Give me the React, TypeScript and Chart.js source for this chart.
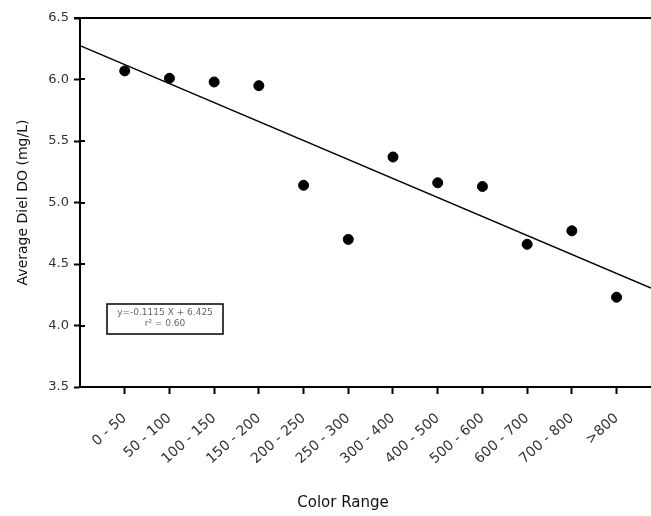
import React, { useEffect, useRef } from "react";
import { Chart, registerables } from "chart.js";

Chart.register(...registerables);

const categories = [
  "0 - 50", "50 - 100", "100 - 150", "150 - 200", "200 - 250", "250 - 300",
  "300 - 400", "400 - 500", "500 - 600", "600 - 700", "700 - 800", ">800",
];
const doValues = [6.07, 6.01, 5.98, 5.95, 5.14, 4.7, 5.37, 5.16, 5.13, 4.66, 4.77, 4.23];
const trendX = [0, 12.77];
const trendY = [6.275, 4.305];
const equationLines = ["y=-0.1115 X + 6.425", "r² = 0.60"];
const xTitle = "Color Range";
const yTitle = "Average Diel DO (mg/L)";

const FONT = "'DejaVu Sans', 'Liberation Sans', Arial, sans-serif";

export default function App() {
  const ref = useRef<HTMLCanvasElement | null>(null);

  useEffect(() => {
    document.body.style.margin = "0";
    const canvas = ref.current;
    if (!canvas) return;

    const decor = {
      id: "decor",
      afterDraw(chart: any) {
        const { ctx, chartArea } = chart;
        const yScale = chart.scales.y;
        ctx.save();
        // top frame line
        ctx.strokeStyle = "#000";
        ctx.lineWidth = 2;
        ctx.beginPath();
        ctx.moveTo(chartArea.left - 6, chartArea.top);
        ctx.lineTo(chart.width, chartArea.top);
        ctx.stroke();

        // inner half of y ticks (ticks cross the axis)
        ctx.beginPath();
        yScale.ticks.forEach((t: any) => {
          const py = Math.round(yScale.getPixelForValue(t.value));
          ctx.moveTo(chartArea.left, py);
          ctx.lineTo(chartArea.left + 5, py);
        });
        ctx.stroke();

        // equation box
        const bx = chartArea.left + 27;
        const by = chartArea.top + 286;
        const bw = 116;
        const bh = 30;
        ctx.fillStyle = "#fff";
        ctx.fillRect(bx, by, bw, bh);
        ctx.lineWidth = 1.5;
        ctx.strokeRect(bx, by, bw, bh);
        ctx.fillStyle = "#666";
        ctx.font = `9px ${FONT}`;
        ctx.textAlign = "center";
        ctx.textBaseline = "middle";
        ctx.fillText(equationLines[0], bx + bw / 2, by + 9);
        ctx.fillText(equationLines[1], bx + bw / 2, by + 20);

        // axis titles
        ctx.fillStyle = "#111";
        ctx.font = `15px ${FONT}`;
        ctx.fillText(xTitle, 343, 503);
        ctx.translate(23, (chartArea.top + chartArea.bottom) / 2);
        ctx.rotate(-Math.PI / 2);
        ctx.font = `14px ${FONT}`;
        ctx.fillText(yTitle, 0, 0);
        ctx.restore();
      },
    };

    const chart = new Chart(canvas, {
      type: "scatter",
      data: {
        datasets: [
          {
            type: "line",
            label: "Trend",
            data: trendX.map((x, i) => ({ x, y: trendY[i] })),
            borderColor: "#000",
            borderWidth: 1.5,
            pointRadius: 0,
            fill: false,
            clip: false,
          } as any,
          {
            label: "Average Diel DO",
            data: doValues.map((y, i) => ({ x: i + 1, y })),
            backgroundColor: "#000",
            borderColor: "#000",
            pointStyle: "circle",
            pointRadius: 5,
          },
        ],
      },
      plugins: [decor],
      options: {
        responsive: false,
        animation: false,
        layout: { autoPadding: false, padding: { top: 18, right: 0, left: 0, bottom: 0 } },
        plugins: { legend: { display: false }, tooltip: { enabled: false } },
        scales: {
          x: {
            type: "linear",
            min: 0,
            max: 12.77,
            afterFit: (s: any) => {
              s.height = 129;
              s.paddingRight = 0;
              s.paddingLeft = 0;
            },
            afterBuildTicks: (s: any) => {
              s.ticks = categories.map((_, i) => ({ value: i + 1 }));
            },
            grid: { drawOnChartArea: false, drawTicks: true, tickLength: 7, tickWidth: 2, tickColor: "#000" },
            border: { display: true, color: "#000", width: 2 },
            ticks: {
              autoSkip: false,
              minRotation: 42,
              maxRotation: 42,
              padding: 16,
              color: "#333",
              font: { family: FONT, size: 14 },
              callback: (v: any) => categories[Math.round(v) - 1] ?? "",
            },
          },
          y: {
            type: "linear",
            min: 3.5,
            max: 6.5,
            afterFit: (s: any) => { s.width = 80; },
            grid: { drawOnChartArea: false, drawTicks: true, tickLength: 6, tickWidth: 2, tickColor: "#000" },
            border: { display: true, color: "#000", width: 2 },
            ticks: {
              stepSize: 0.5,
              padding: 5,
              color: "#333",
              font: { family: FONT, size: 13 },
              callback: (v: any) => Number(v).toFixed(1),
            },
          },
        },
      },
    });
    return () => chart.destroy();
  }, []);

  return <canvas ref={ref} width={651} height={516} style={{ display: "block" }} />;
}
